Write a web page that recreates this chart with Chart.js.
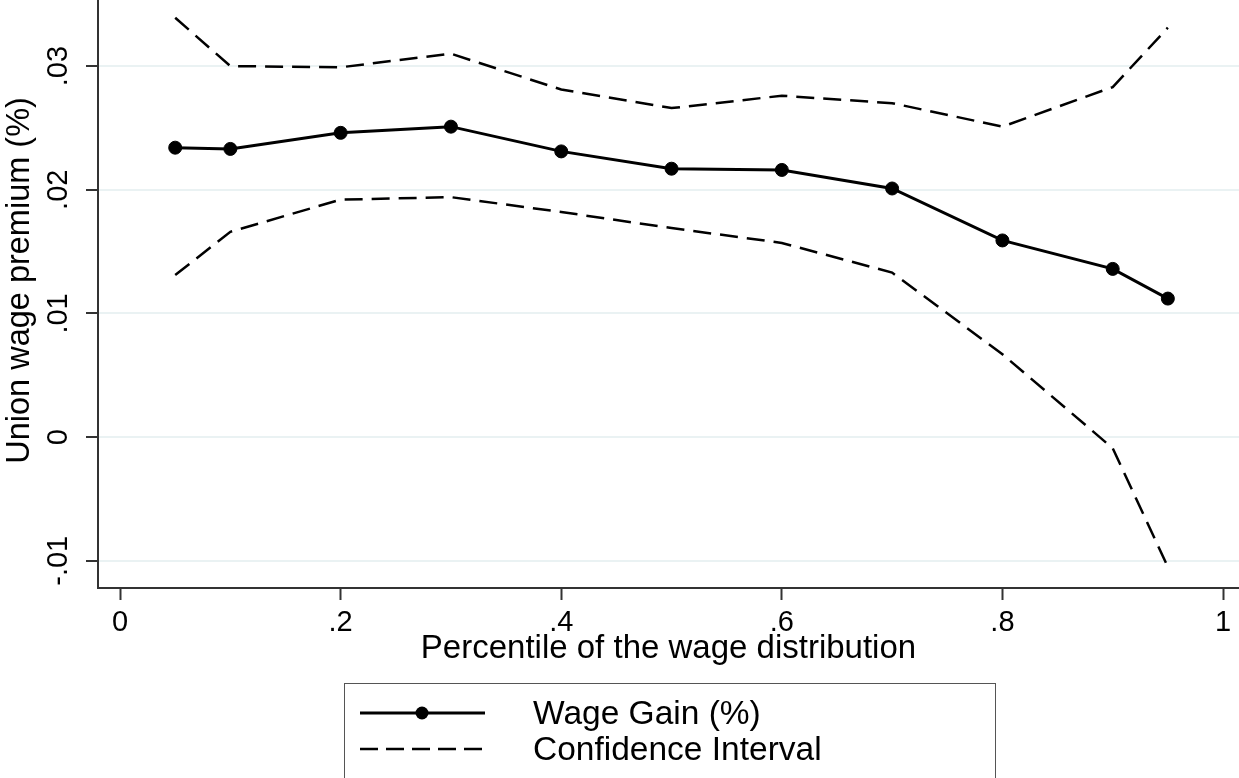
<!DOCTYPE html>
<html>
<head>
<meta charset="utf-8">
<script src="https://cdn.jsdelivr.net/npm/chart.js@4.4.1/dist/chart.umd.min.js"></script>
<style>
  html, body { margin: 0; padding: 0; background: #fff; }
  #wrap { position: relative; width: 1239px; height: 778px; overflow: hidden; background: #fff; }
  #chart { position: absolute; left: 0; top: 0; }
  #legend { position: absolute; left: 344px; top: 683px; width: 652px; height: 130px;
            border: 1.5px solid #555; box-sizing: border-box;
            font-family: "Liberation Sans", Arial, sans-serif; font-size: 33.5px; color: #000; }
  #legend svg { position: absolute; left: 0; top: 0; }
  #legend .lbl { position: absolute; left: 188px; line-height: 1; transform: translateY(-50%); white-space: nowrap; }
</style>
</head>
<body>
<div id="wrap">
  <canvas id="chart" width="1239" height="778"></canvas>
  <div id="legend"></div>
</div>
<script>
// ---- data ----
const percentiles = [0.05, 0.1, 0.2, 0.3, 0.4, 0.5, 0.6, 0.7, 0.8, 0.9, 0.95];
const wageGain    = [0.0234, 0.0233, 0.0246, 0.0251, 0.0231, 0.0217, 0.0216, 0.0201, 0.0159, 0.0136, 0.0112];
const ciUpper     = [0.0339, 0.0300, 0.0299, 0.0310, 0.0281, 0.0266, 0.0276, 0.0270, 0.0251, 0.0283, 0.0331];
const ciLower     = [0.0131, 0.0166, 0.0192, 0.0194, 0.0182, 0.0169, 0.0157, 0.0133, 0.0067, -0.0009, -0.0105];

const xTicks      = [0, 0.2, 0.4, 0.6, 0.8, 1];
const xTickLabels = ['0', '.2', '.4', '.6', '.8', '1'];
const yTicks      = [-0.01, 0, 0.01, 0.02, 0.03];
const yTickLabels = ['-.01', '0', '.01', '.02', '.03'];

const seriesNames = ['Wage Gain (%)', 'Confidence Interval'];
const xTitle = 'Percentile of the wage distribution';
const yTitle = 'Union wage premium (%)';

// ---- chart ----
const FONT = '"Liberation Sans", Arial, sans-serif';
const toPts = (ys) => percentiles.map((x, i) => ({ x: x, y: ys[i] }));

new Chart(document.getElementById('chart'), {
  type: 'line',
  data: {
    datasets: [
      { label: seriesNames[0], data: toPts(wageGain), borderColor: '#000', borderWidth: 3,
        pointRadius: 6.5, pointHoverRadius: 6.5, pointBackgroundColor: '#000', pointBorderColor: '#000',
        pointBorderWidth: 1, tension: 0 },
      { label: seriesNames[1], data: toPts(ciUpper), borderColor: '#000', borderWidth: 2.5,
        borderDash: [18, 9], pointRadius: 0, tension: 0 },
      { label: seriesNames[1] + ' (lower)', data: toPts(ciLower), borderColor: '#000', borderWidth: 2.5,
        borderDash: [18, 9], pointRadius: 0, tension: 0 }
    ]
  },
  options: {
    responsive: false,
    animation: false,
    devicePixelRatio: 1,
    layout: { autoPadding: false, padding: { left: 0, right: 0, top: 0, bottom: 108 } },
    plugins: { legend: { display: false }, tooltip: { enabled: false } },
    scales: {
      x: {
        type: 'linear',
        min: -0.02, max: 1.0145,
        afterBuildTicks: (s) => { s.ticks = xTicks.map(v => ({ value: v })); },
        afterFit: (s) => { s.height = 82; s.paddingLeft = 0; s.paddingRight = 0; },
        ticks: { callback: (v, i) => xTickLabels[i], font: { family: FONT, size: 29 }, color: '#000',
                 padding: 6, maxRotation: 0, minRotation: 0, autoSkip: false },
        grid: { drawOnChartArea: false, drawTicks: true, tickLength: 12, tickColor: '#333', tickWidth: 2 },
        border: { display: true, color: '#333', width: 2 },
        title: { display: true, text: xTitle, color: '#000', font: { family: FONT, size: 33, lineHeight: 1.2 },
                 padding: { top: 0, bottom: 1 } }
      },
      y: {
        type: 'linear',
        min: -0.0122, max: 0.03534,
        afterBuildTicks: (s) => { s.ticks = yTicks.map(v => ({ value: v })); },
        afterFit: (s) => { s.width = 98; s.paddingTop = 0; s.paddingBottom = 0; },
        ticks: { callback: (v, i) => yTickLabels[i], font: { family: FONT, size: 29 }, color: '#000',
                 padding: 2, minRotation: 90, maxRotation: 90, crossAlign: 'center', autoSkip: false },
        grid: { color: '#eaf2f3', lineWidth: 2, drawTicks: true, tickLength: 12, tickColor: '#333', tickWidth: 2 },
        border: { display: true, color: '#333', width: 2 },
        title: { display: true, text: '\u00a0\u00a0\u00a0' + yTitle, color: '#000',
                 font: { family: FONT, size: 32.5, lineHeight: 1.2 },
                 padding: { top: 1, bottom: 0 } }
      }
    }
  }
});

// ---- legend (Stata-style boxed key) ----
(function () {
  const lg = document.getElementById('legend');
  const ns = 'http://www.w3.org/2000/svg';
  const svg = document.createElementNS(ns, 'svg');
  svg.setAttribute('width', '170'); svg.setAttribute('height', '100');
  const rows = [29, 65];
  const l1 = document.createElementNS(ns, 'line');
  l1.setAttribute('x1', 15); l1.setAttribute('x2', 140); l1.setAttribute('y1', rows[0]); l1.setAttribute('y2', rows[0]);
  l1.setAttribute('stroke', '#000'); l1.setAttribute('stroke-width', 3);
  const c1 = document.createElementNS(ns, 'circle');
  c1.setAttribute('cx', 77); c1.setAttribute('cy', rows[0]); c1.setAttribute('r', 6.5); c1.setAttribute('fill', '#000');
  const l2 = document.createElementNS(ns, 'line');
  l2.setAttribute('x1', 15); l2.setAttribute('x2', 143); l2.setAttribute('y1', rows[1]); l2.setAttribute('y2', rows[1]);
  l2.setAttribute('stroke', '#000'); l2.setAttribute('stroke-width', 2.5); l2.setAttribute('stroke-dasharray', '18 8');
  svg.appendChild(l1); svg.appendChild(c1); svg.appendChild(l2);
  lg.appendChild(svg);
  seriesNames.forEach((name, i) => {
    const s = document.createElement('span');
    s.className = 'lbl'; s.style.top = rows[i] + 'px'; s.textContent = name;
    lg.appendChild(s);
  });
})();
</script>
</body>
</html>
